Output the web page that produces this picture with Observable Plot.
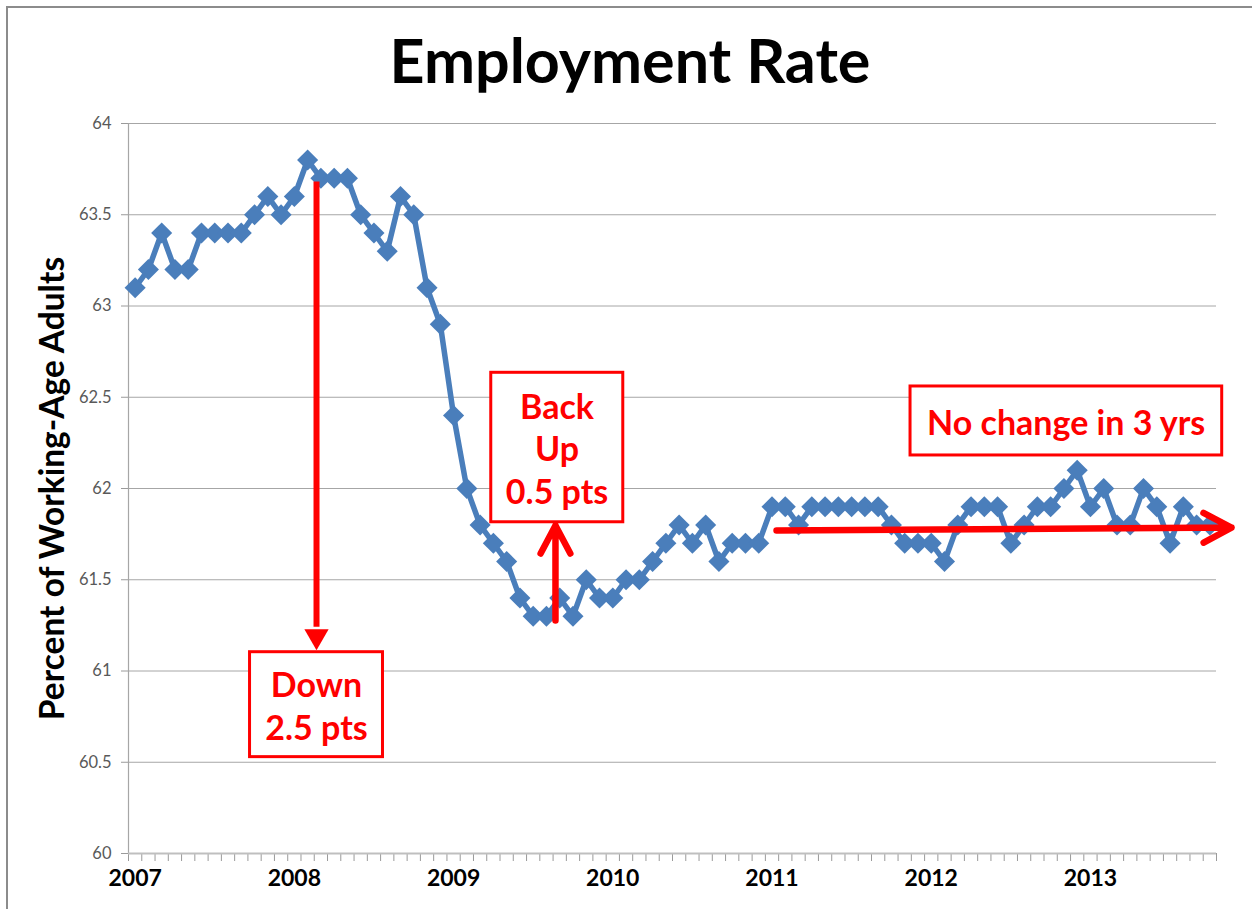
<!DOCTYPE html>
<html>
<head>
<meta charset="utf-8">
<script src="https://cdn.jsdelivr.net/npm/d3@7"></script>
<script src="https://cdn.jsdelivr.net/npm/@observablehq/plot@0.6"></script>
<style>
  html, body { margin: 0; padding: 0; background: #fff; }
  #frame { position: relative; width: 1252px; height: 909px; overflow: hidden; background: #fff; }
  #border { position: absolute; left: 6px; top: 6px; width: 1400px; height: 1100px;
            border-left: 2px solid #8c8c8c; border-top: 2px solid #8c8c8c; }
  #title { position: absolute; left: 0; top: 29px; width: 1260px; text-align: center;
           font-family: Lato, "Open Sans", sans-serif; font-weight: bold; font-size: 61px;
           line-height: 61px; color: #000; }
  #chart { position: absolute; left: 0; top: 110px; }
  #chart svg [aria-label^="y-axis"] text, #chart svg [aria-label^="x-axis"] text { display: none; }
</style>
</head>
<body>
<div id="frame">
  <div id="border"></div>
  <div id="title">Employment Rate</div>
  <div id="chart"></div>
</div>
<script>
// ---- data (monthly, Jan 2007 – Oct 2013) ----
const monthNames = ["Jan","Feb","Mar","Apr","May","Jun","Jul","Aug","Sep","Oct","Nov","Dec"];
const rate = [
  63.1, 63.2, 63.4, 63.2, 63.2, 63.4, 63.4, 63.4, 63.4, 63.5, 63.6, 63.5,   // 2007
  63.6, 63.8, 63.7, 63.7, 63.7, 63.5, 63.4, 63.3, 63.6, 63.5, 63.1, 62.9,   // 2008
  62.4, 62.0, 61.8, 61.7, 61.6, 61.4, 61.3, 61.3, 61.4, 61.3, 61.5, 61.4,   // 2009
  61.4, 61.5, 61.5, 61.6, 61.7, 61.8, 61.7, 61.8, 61.6, 61.7, 61.7, 61.7,   // 2010
  61.9, 61.9, 61.8, 61.9, 61.9, 61.9, 61.9, 61.9, 61.9, 61.8, 61.7, 61.7,   // 2011
  61.7, 61.6, 61.8, 61.9, 61.9, 61.9, 61.7, 61.8, 61.9, 61.9, 62.0, 62.1,   // 2012
  61.9, 62.0, 61.8, 61.8, 62.0, 61.9, 61.7, 61.9, 61.8, 61.8              // 2013
];
const yearLabels = ["2007", "2008", "2009", "2010", "2011", "2012", "2013"];
const yTicks = [60, 60.5, 61, 61.5, 62, 62.5, 63, 63.5, 64];
const yTickLabels = ["60", "60.5", "61", "61.5", "62", "62.5", "63", "63.5", "64"];
const yTitle = "Percent of Working-Age Adults";

// annotation texts and their anchor positions (month index, percent)
const noteTexts = ["Down\n2.5 pts", "Back\nUp\n0.5 pts", "No change in 3 yrs"];
const noteBoxes = [
  {x1: 8.66, x2: 18.68, y1: 61.103, y2: 60.528, tx: 13.67, ty: 60.815},
  {x1: 26.84, x2: 36.79, y1: 62.634, y2: 61.815, tx: 31.8, ty: 62.225},
  {x1: 58.44, x2: 81.93, y1: 62.559, y2: 62.181, tx: 70.17, ty: 62.37}
];
const downArrow = {x: 13.67, yTop: 63.68, yBase: 61.24, yHead: 61.19};
const upArrow = {x1: 31.68, y1: 61.277, x2: 31.68, y2: 61.797};
const flatArrow = {x1: 48.34, y1: 61.770, x2: 82.63, y2: 61.786};

// ---- derived tables ----
const data = rate.map((v, i) => ({i, month: monthNames[i % 12] + " " + (2007 + Math.floor(i / 12)), v}));
const monthEdges = d3.range(rate.length + 1).map(k => k - 0.5);
const yearPos = yearLabels.map((_, k) => k * 12);
const notes = noteBoxes.map((b, k) => ({...b, text: noteTexts[k]}));

const RED = "#ff0000";
const BLUE = "#4a7ebb";

const chart = Plot.plot({
  width: 1252,
  height: 799,
  marginTop: 13,
  marginBottom: 56,
  marginLeft: 128,
  marginRight: 36,
  style: {fontFamily: "Lato, 'Open Sans', sans-serif", fontSize: "16px", background: "transparent",
          overflow: "visible", color: "#9a9a9a"},
  x: {type: "linear", domain: [-0.5, rate.length - 0.5], ticks: monthEdges, tickSize: 8,
      tickFormat: () => "", label: null},
  y: {domain: [60, 64], ticks: yTicks, tickSize: 7, tickFormat: () => "", label: null},
  marks: [
    Plot.ruleY(yTicks.filter(d => d > 60), {y: d => d, stroke: "#a6a6a6", strokeWidth: 1}),
    Plot.ruleX([-0.5], {x: d => d, stroke: "#a6a6a6", strokeWidth: 1.2}),
    Plot.ruleY([60], {y: d => d, stroke: "#bfbfbf", strokeWidth: 2}),
    // y tick labels
    Plot.text(yTicks, {y: d => d, frameAnchor: "left", dx: -17, textAnchor: "end",
      text: (d, k) => yTickLabels[k], fontSize: 16.5, fill: "#595959"}),
    Plot.line(data, {x: "i", y: "v", stroke: BLUE, strokeWidth: 5.5, strokeLinejoin: "round"}),
    Plot.dot(data, {x: "i", y: "v", symbol: "diamond2", r: 9.5, fill: BLUE, title: d => `${d.month}: ${d.v}`}),
    // year labels
    Plot.text(yearLabels, {x: (d, k) => yearPos[k], frameAnchor: "bottom", dy: 32, text: d => d,
      fontWeight: "bold", fontSize: 23, fill: "#000"}),
    // y title
    Plot.text([yTitle], {frameAnchor: "left", dx: -75, rotate: -90, text: d => d, textAnchor: "middle",
      fontWeight: "bold", fontSize: 33.5, fill: "#000"}),
    // annotations
    Plot.ruleX([downArrow], {x: "x", y1: "yTop", y2: "yBase", stroke: RED, strokeWidth: 6}),
    Plot.dot([downArrow], {x: "x", y: "yHead", symbol: "triangle", rotate: 180, r: 9, fill: RED}),
    Plot.arrow([upArrow, flatArrow], {x1: "x1", y1: "y1", x2: "x2", y2: "y2", stroke: RED,
      strokeWidth: 6.5, headLength: 7.3, headAngle: 56, strokeLinecap: "round", strokeLinejoin: "round"}),
    Plot.rect(notes, {x1: "x1", x2: "x2", y1: "y1", y2: "y2", fill: "white", stroke: RED, strokeWidth: 3}),
    Plot.text(notes, {x: "tx", y: "ty", text: "text", fill: RED, fontWeight: "bold", fontSize: 34,
      lineHeight: 1.25, fontFamily: "Lato, 'Open Sans', sans-serif"})
  ]
});
document.getElementById("chart").appendChild(chart);
</script>
</body>
</html>
